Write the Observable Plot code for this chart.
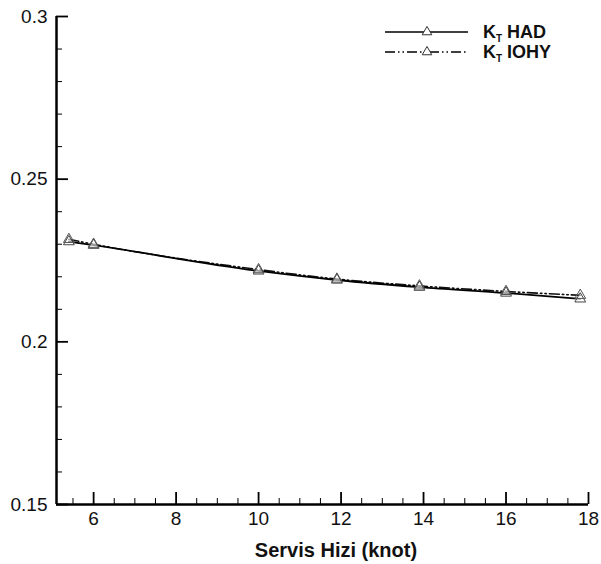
<!DOCTYPE html>
<html><head><meta charset="utf-8">
<script src="https://cdn.jsdelivr.net/npm/d3@7"></script>
<script src="https://cdn.jsdelivr.net/npm/@observablehq/plot@0.6"></script>
<style>
body{margin:0;background:#fff;font-family:"Liberation Sans",Arial,sans-serif}
#wrap{position:relative;width:601px;height:564px}
</style></head>
<body><div id="wrap"><div id="chart"></div></div>
<script>
const speeds = [5.4, 6.0, 10.0, 11.9, 13.9, 16.0, 17.8];
const ktHAD  = [0.2308, 0.2297, 0.2218, 0.2190, 0.2168, 0.2150, 0.2132];
const ktIOHY = [0.2315, 0.2300, 0.2222, 0.2193, 0.2172, 0.2155, 0.2143];
const seriesNames = ["HAD", "IOHY"];
const xMajor = [6, 8, 10, 12, 14, 16, 18];
const xMinor = d3.range(5.5, 18, 0.5).filter(v => !xMajor.includes(v));
const yMajor = [0.15, 0.2, 0.25, 0.3];
const yMinor = d3.range(0.16, 0.3, 0.01).map(v => +v.toFixed(2)).filter(v => !yMajor.some(m => Math.abs(m - v) < 1e-9));
const xLabel = "Servis Hizi (knot)";

const dashIOHY = "10,3,1.5,3,1.5,3";
const had = speeds.map((s, i) => ({s, k: ktHAD[i]}));
const iohy = speeds.map((s, i) => ({s, k: ktIOHY[i]}));

const plot = Plot.plot({
  width: 601, height: 564,
  marginLeft: 56, marginRight: 13, marginTop: 16, marginBottom: 60,
  style: {fontFamily: '"Liberation Sans", Arial, sans-serif', fontSize: "19px", color: "#000", background: "#fff"},
  x: {domain: [5.1, 18]},
  y: {domain: [0.15, 0.3]},
  marks: [
    Plot.axisX({ticks: xMajor, tickSize: -12, tickPadding: 19, strokeWidth: 1.8, fontSize: 19, fill: "#111", tickFormat: d => String(d), label: null}),
    Plot.axisX({ticks: xMinor, tickSize: -6, strokeWidth: 1, tickFormat: () => "", label: null}),
    Plot.axisY({ticks: yMajor, tickSize: -12, tickPadding: 21, strokeWidth: 1.8, fontSize: 19, fill: "#111", tickFormat: d => String(+d.toFixed(2)), label: null}),
    Plot.axisY({ticks: yMinor, tickSize: -6, strokeWidth: 1, tickFormat: () => "", label: null}),
    Plot.ruleX([5.1], {strokeWidth: 2.5}),
    Plot.ruleY([0.15], {strokeWidth: 2.5}),
    Plot.line(iohy, {x: "s", y: "k", stroke: "#111", strokeWidth: 1.6, strokeDasharray: dashIOHY, curve: "monotone-x"}),
    Plot.line(had, {x: "s", y: "k", stroke: "#000", strokeWidth: 1.8, curve: "monotone-x"}),
    Plot.dot(had, {x: "s", y: "k", symbol: "triangle", r: 4, stroke: "#444", strokeWidth: 1, fill: "white", fillOpacity: 0.6}),
    Plot.dot(iohy, {x: "s", y: "k", symbol: "triangle", r: 4, stroke: "#555", strokeWidth: 1, fill: "none"})
  ]
});
document.getElementById("chart").appendChild(plot);

const svg = d3.select(plot);
svg.append("text").attr("x", 336).attr("y", 557)
  .attr("text-anchor", "middle").attr("font-weight", "bold").attr("font-size", 20)
  .attr("fill", "#111").text(xLabel);

const lg = svg.append("g").attr("transform", "translate(385,32)");
seriesNames.forEach((name, i) => {
  const g = lg.append("g").attr("transform", `translate(0,${i * 20})`);
  g.append("line").attr("x1", 0).attr("x2", 83).attr("y1", 0).attr("y2", 0)
    .attr("stroke", "#000").attr("stroke-width", 1.5)
    .attr("stroke-dasharray", i === 1 ? dashIOHY : null);
  g.append("path").attr("d", d3.symbol(d3.symbolTriangle, 40)())
    .attr("transform", "translate(42,0)").attr("fill", "white").attr("stroke", "#333").attr("stroke-width", 1);
  const t = g.append("text").attr("x", 98).attr("y", 6).attr("text-anchor", "start")
    .attr("font-weight", "bold").attr("font-size", 18).attr("fill", "#111");
  t.append("tspan").text("K");
  t.append("tspan").attr("font-size", 10).attr("dy", 4).text("T");
  t.append("tspan").attr("dy", -4).text(" " + name);
});
</script>
</body></html>
